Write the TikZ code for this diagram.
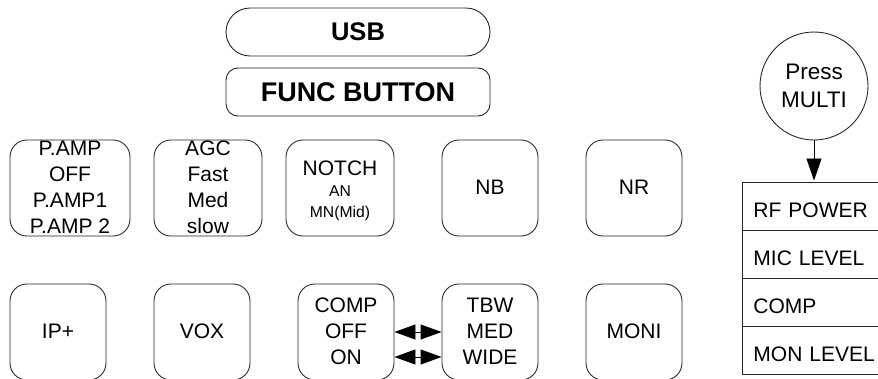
\documentclass[tikz,border=0pt]{standalone}
\usepackage{fontspec}
\setmainfont{Liberation Sans}
\usetikzlibrary{arrows.meta}
\tikzset{
  x=1pt,y=-1pt,
  panel/.style={draw=black!85,line width=0.9pt,inner sep=0pt},
  btn/.style={panel,rounded corners=17pt,minimum height=96pt,minimum width=96pt},
  wide/.style={minimum width=#1},
  lbl/.style={font=\fontsize{21}{26}\selectfont,align=center,inner sep=0pt,yshift=1pt},
  head/.style={panel,minimum width=264pt,minimum height=48pt,font=\fontsize{27}{30}\selectfont\bfseries},
  row/.style={panel,anchor=north west,minimum width=160pt,minimum height=48pt,text width=160pt,align=left,font=\fontsize{21}{26}\selectfont},
  tip/.style={{Triangle[length=21pt,width=15pt]}-{Triangle[length=21pt,width=15pt]},line width=0.9pt,black},
  downtip/.style={-{Triangle[length=22pt,width=15pt]},line width=0.9pt,black,shorten >=1.5pt}
}
\newcommand{\rowtext}[1]{\hspace*{11pt}\raisebox{0pt}[23pt][0pt]{#1}}
\begin{document}
\begin{tikzpicture}
\clip (0,0) rectangle (878,378);
\useasboundingbox (0,0) rectangle (878,378);
\node[head,rounded corners=24pt,font=\fontsize{25.5}{30}\selectfont\bfseries] (usb) at (358,32) {USB};
\node[head,rounded corners=12pt] (func) at (358,92) {FUNC BUTTON};
\node[btn,wide=120pt,label={[lbl]center:P.AMP\\OFF\\P.AMP1\\P.AMP 2}] (pamp) at (70,188) {};
\node[btn,wide=108pt,label={[lbl]center:AGC\\Fast\\Med\\slow}] (agc) at (208,188) {};
\node[btn,wide=108pt] (notch) at (340,188) {};
\node[lbl] (notchtxt) at (340,169) {NOTCH};
\node[lbl,font=\fontsize{15.7}{21}\selectfont] (notchsub) at (340,204) {AN\\MN(Mid)};
\node[btn,label={[lbl]center:NB}] (nb) at (490,188) {};
\node[btn,label={[lbl]center:NR}] (nr) at (634,188) {};
\node[btn,label={[lbl]center:IP+}] (ip) at (58,332) {};
\node[btn,label={[lbl]center:VOX}] (vox) at (202,332) {};
\node[btn,label={[lbl]center:COMP\\OFF\\ON}] (comp) at (346,332) {};
\node[btn,label={[lbl]center:TBW\\MED\\WIDE}] (tbw) at (490,332) {};
\node[btn,label={[lbl]center:MONI}] (moni) at (634,332) {};
\draw[tip] (comp.east) -- (tbw.west);
\draw[tip] ([yshift=-25pt]comp.east) -- ([yshift=-25pt]tbw.west);
\node[panel,circle,minimum size=108pt,align=center,font=\fontsize{22.5}{28}\selectfont] (multi) at (814,86) {Press\\MULTI};
\node[row] (rf) at (742,182) {\rowtext{RF POWER}};
\node[row] (mic) at (742,230) {\rowtext{MIC LEVEL}};
\node[row] (cmp) at (742,278) {\rowtext{COMP}};
\node[row] (mon) at (742,326) {\rowtext{MON LEVEL}};
\draw[downtip] (multi.south) -- (multi.south |- rf.north);
\end{tikzpicture}
\end{document}
